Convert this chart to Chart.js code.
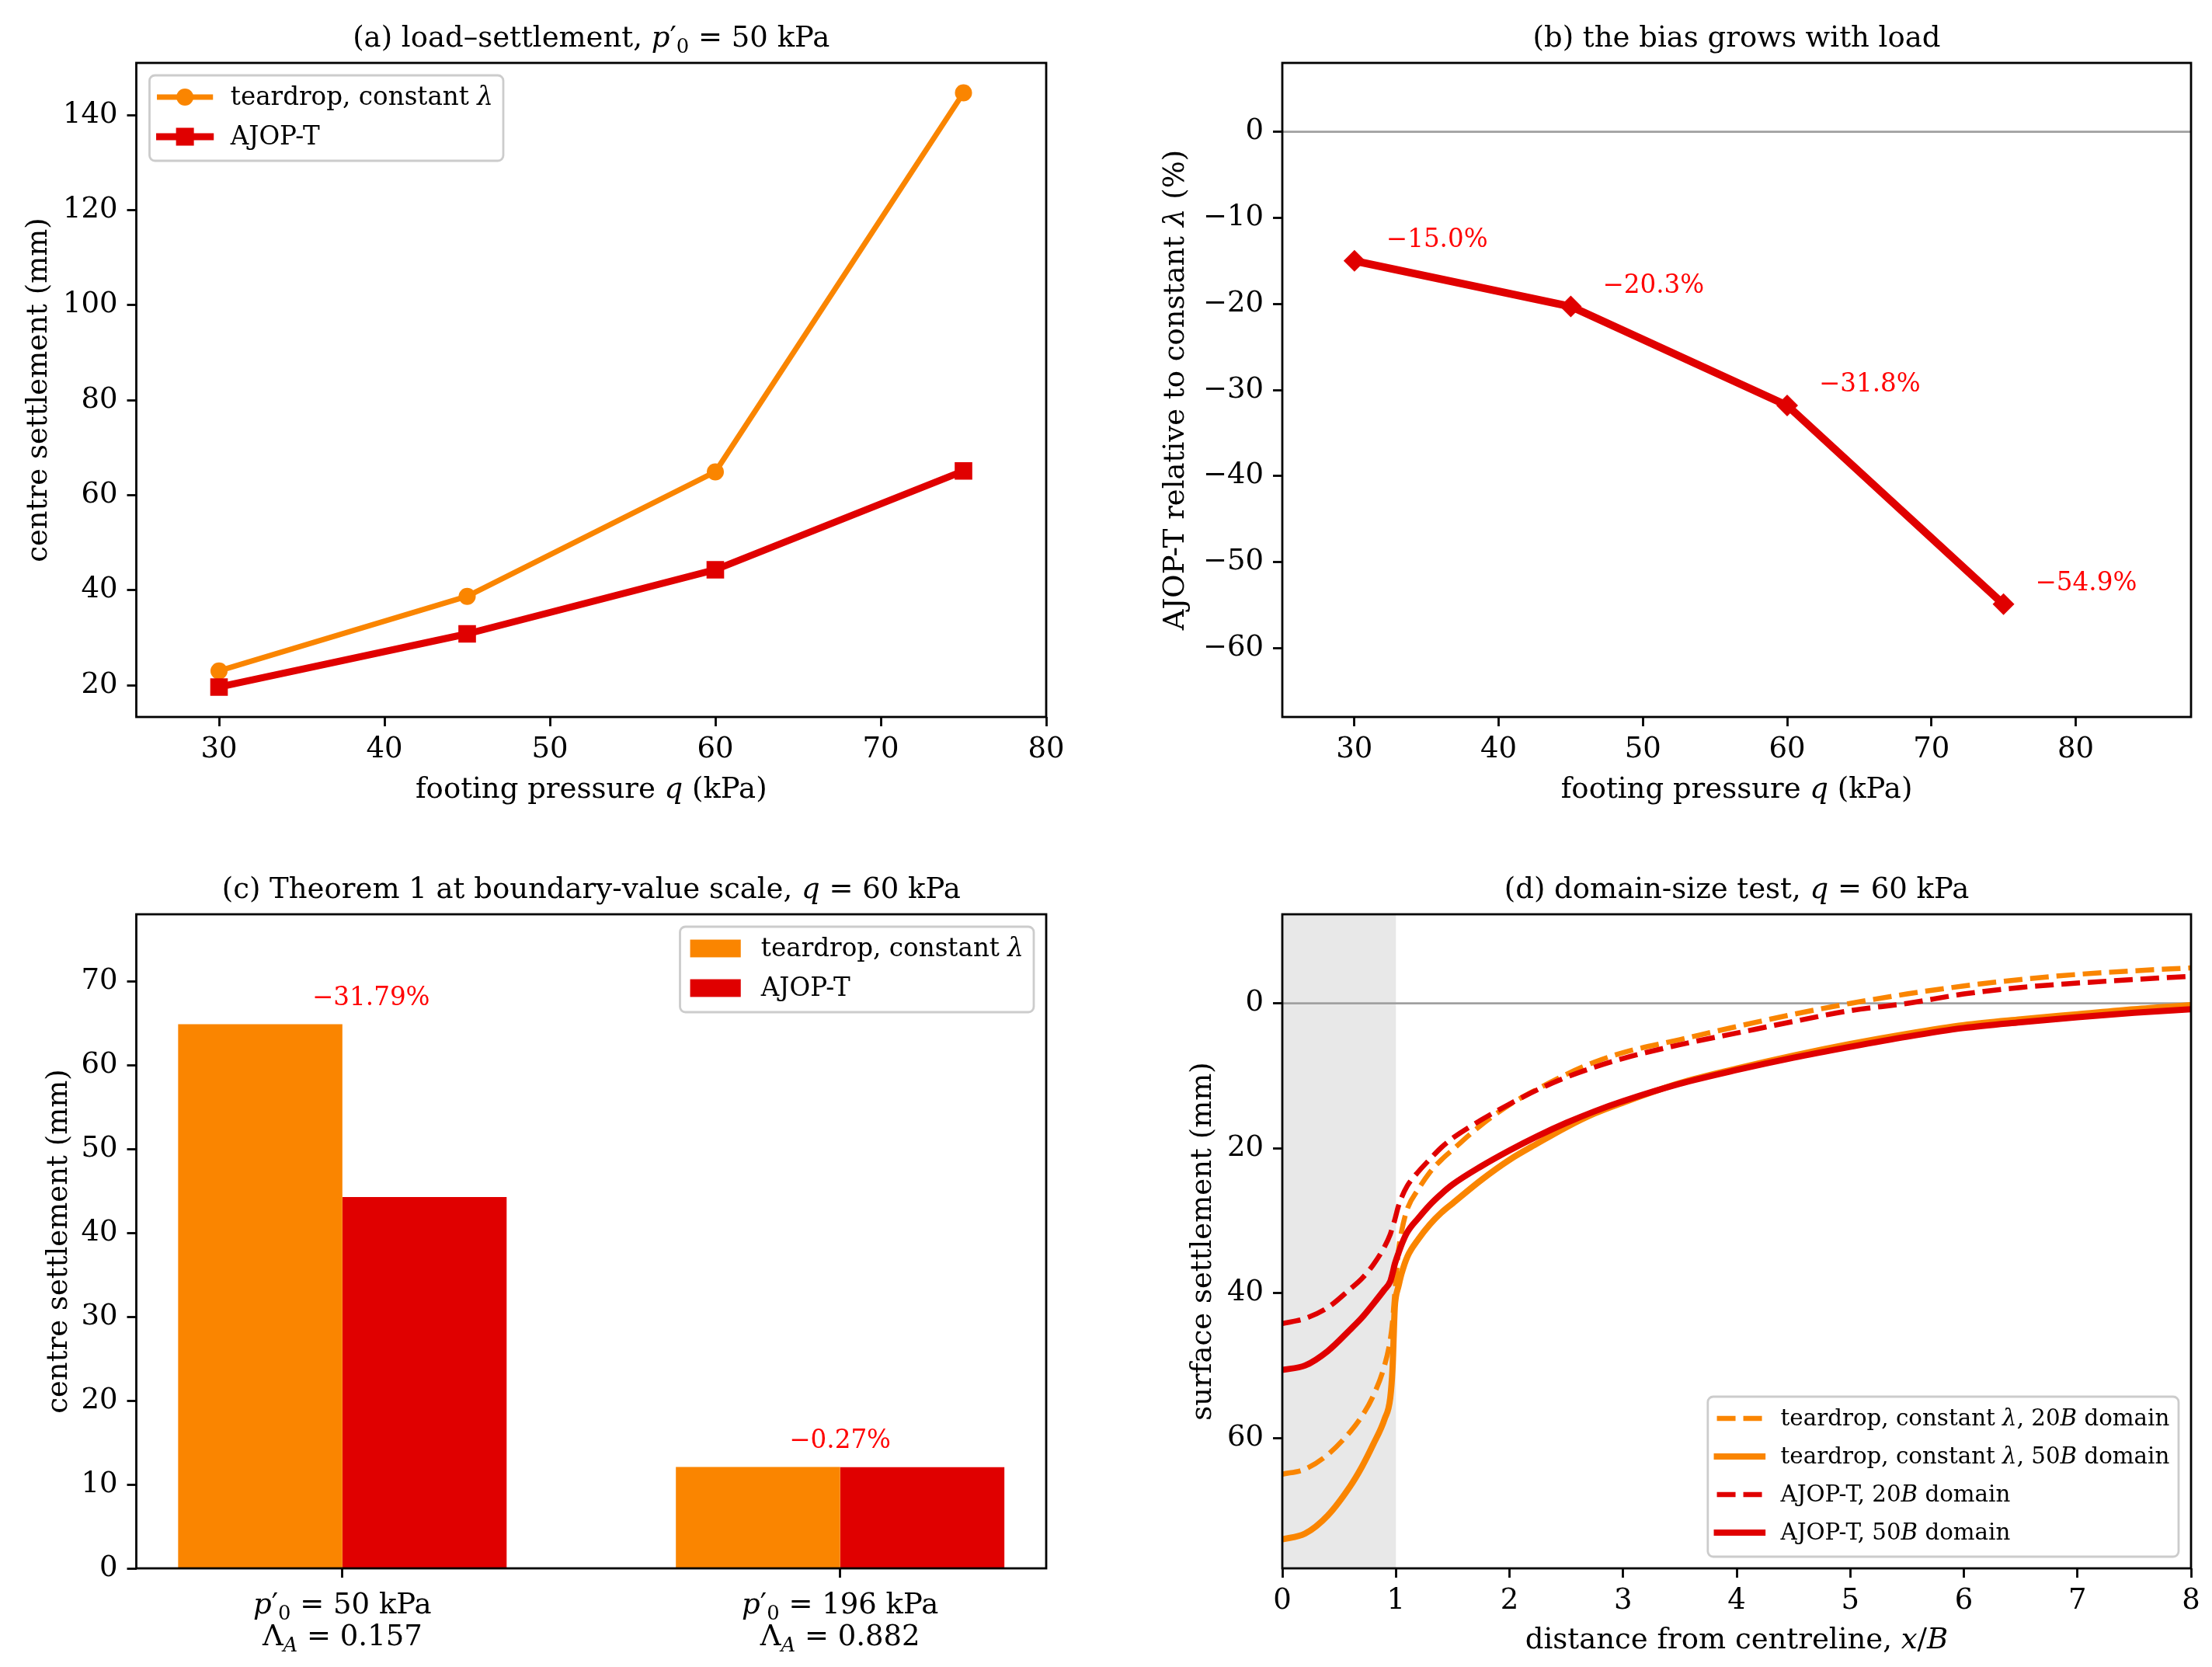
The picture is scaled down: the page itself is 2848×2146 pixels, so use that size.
<!DOCTYPE html>
<html>
<head>
<meta charset="utf-8">
<script src="https://cdn.jsdelivr.net/npm/chart.js@4.4.1/dist/chart.umd.min.js"></script>
<style>
  body { margin: 0; background: #fff; }
  #fig { position: relative; width: 2848px; height: 2146px; background: #fff; }
  canvas { position: absolute; }
</style>
</head>
<body>
<div id="fig">
  <canvas id="ca" width="1424" height="1073" style="left:0;top:0"></canvas>
  <canvas id="cb" width="1424" height="1073" style="left:1424px;top:0"></canvas>
  <canvas id="cc" width="1424" height="1073" style="left:0;top:1073px"></canvas>
  <canvas id="cd" width="1424" height="1073" style="left:1424px;top:1073px"></canvas>
</div>
<script>
// ---- data ----
var loadQ = [30, 45, 60, 75];
var aTeardrop = [23.0, 38.7, 64.9, 144.7];
var aAjop = [19.6, 30.8, 44.3, 65.1];
var bBias = [-15.0, -20.3, -31.8, -54.9];

var cPressure = [50, 196];
var cLambdaA = ['0.157', '0.882'];
var cTeardrop = [64.9, 12.1];
var cAjop = [44.27, 12.07];
var cBiasPct = [-31.79, -0.27];

var dX = [0, 0.2, 0.4, 0.6, 0.7, 0.8, 0.9, 0.95, 0.97, 0.99, 1.0, 1.02, 1.05, 1.1, 1.2, 1.3, 1.4, 1.5,
          1.75, 2.0, 2.25, 2.5, 2.75, 3.0, 3.5, 4.0, 4.5, 5.0, 5.5, 6.0, 6.5, 7.0, 7.5, 8.0];
var dTear20 = [65.0, 64.3, 62.3, 59.1, 57.0, 54.2, 50.0, 46.5, 44.0, 40.0, 38.2, 34.5, 31.5, 28.4, 25.6, 23.3, 21.6, 20.2,
               16.8, 14.0, 11.8, 9.8, 8.1, 6.8, 5.0, 3.2, 1.5, 0.0, -1.3, -2.4, -3.3, -4.0, -4.5, -4.9];
var dTear50 = [74.0, 73.2, 70.7, 66.6, 64.0, 60.9, 57.4, 54.5, 50.5, 42.0, 40.5, 39.2, 37.3, 35.0, 32.5, 30.5, 28.9, 27.6,
               24.4, 21.6, 19.3, 17.1, 15.2, 13.7, 11.0, 9.0, 7.2, 5.6, 4.2, 3.0, 2.2, 1.5, 0.8, 0.25];
var dAjop20 = [44.2, 43.5, 42.0, 39.4, 38.0, 36.1, 33.6, 31.9, 30.9, 29.9, 29.3, 28.1, 26.8, 25.2, 23.2, 21.5, 19.9, 18.6,
               16.1, 13.9, 11.9, 10.2, 8.8, 7.6, 5.7, 4.1, 2.5, 1.0, 0.0, -1.3, -2.2, -2.8, -3.3, -3.75];
var dAjop50 = [50.6, 50.0, 48.0, 45.0, 43.4, 41.5, 39.5, 38.4, 37.3, 36.0, 35.5, 34.6, 33.3, 31.6, 29.6, 27.8, 26.3, 25.0,
               22.5, 20.3, 18.3, 16.5, 14.9, 13.5, 11.1, 9.2, 7.5, 6.0, 4.6, 3.4, 2.6, 1.9, 1.3, 0.8];

var aXTicks = [30, 40, 50, 60, 70, 80];
var aYTicks = [20, 40, 60, 80, 100, 120, 140];
var bYTicks = [-60, -50, -40, -30, -20, -10, 0];
var cYTicks = [0, 10, 20, 30, 40, 50, 60, 70];
var dXTicks = [0, 1, 2, 3, 4, 5, 6, 7, 8];
var dYTicks = [0, 20, 40, 60];

// ---- styling ----
var SERIF = '"DejaVu Serif", "Liberation Serif", serif';
var ORANGE = '#fa8500';
var RED = '#e00000';
var FS = 37;
var FS_NOTE = 32.6;
var LW = 2.8;

Chart.defaults.font.family = SERIF;
Chart.defaults.font.size = FS;
Chart.defaults.color = '#000';

function fontStr(size, italic) {
  return (italic ? 'italic ' : '') + size + 'px ' + SERIF;
}
function richWidth(ctx, parts, size) {
  var w = 0;
  parts.forEach(function (p) {
    var f = p[1] || '';
    ctx.font = fontStr(f.indexOf('s') >= 0 ? size * 0.7 : size, f.indexOf('i') >= 0);
    w += ctx.measureText(p[0]).width;
  });
  return w;
}
function drawRich(ctx, parts, x, y, size, color, align) {
  var w = richWidth(ctx, parts, size);
  var cx = align === 'center' ? x - w / 2 : (align === 'right' ? x - w : x);
  ctx.fillStyle = color;
  ctx.textAlign = 'left';
  ctx.textBaseline = 'alphabetic';
  parts.forEach(function (p) {
    var f = p[1] || '';
    var sub = f.indexOf('s') >= 0;
    ctx.font = fontStr(sub ? size * 0.7 : size, f.indexOf('i') >= 0);
    ctx.fillText(p[0], cx, y + (sub ? size * 0.22 : 0));
    cx += ctx.measureText(p[0]).width;
  });
}
function fmt(v) {
  return v < 0 ? '\u2212' + Math.abs(v) : String(v);
}

function drawLegend(ctx, a, lg) {
  var fs = lg.fs, pad = 0.4 * fs, hl = 2 * fs, tp = 0.8 * fs;
  var tw = 0;
  lg.items.forEach(function (it) { tw = Math.max(tw, richWidth(ctx, it.parts, fs)); });
  var w = pad + hl + tp + tw + pad;
  var h = 28 + (lg.items.length - 1) * lg.rowH + 31;
  var x = lg.corner === 'ul' ? a.left + 17 : a.right - 16 - w;
  var y = lg.corner === 'lr' ? a.bottom - 15 - h : a.top + 16;
  ctx.save();
  ctx.beginPath();
  ctx.roundRect(x, y, w, h, 7);
  ctx.fillStyle = 'rgba(255,255,255,0.8)';
  ctx.fill();
  ctx.lineWidth = LW;
  ctx.strokeStyle = '#cccccc';
  ctx.stroke();
  lg.items.forEach(function (it, i) {
    var cy = y + 28 + i * lg.rowH;
    var hx = x + pad;
    if (it.kind === 'patch') {
      ctx.fillStyle = it.color;
      ctx.fillRect(hx, cy - 0.35 * fs, hl, 0.7 * fs);
    } else {
      ctx.beginPath();
      ctx.strokeStyle = it.color;
      ctx.lineWidth = it.width;
      ctx.setLineDash(it.dash || []);
      ctx.lineCap = it.dash ? 'butt' : 'square';
      ctx.moveTo(hx, cy);
      ctx.lineTo(hx + hl, cy);
      ctx.stroke();
      ctx.setLineDash([]);
      ctx.fillStyle = it.color;
      if (it.marker === 'circle') {
        ctx.beginPath();
        ctx.arc(hx + hl / 2, cy, 11, 0, Math.PI * 2);
        ctx.fill();
      } else if (it.marker === 'rect') {
        ctx.fillRect(hx + hl / 2 - 11.5, cy - 11.5, 23, 23);
      }
    }
    drawRich(ctx, it.parts, hx + hl + tp, cy + 0.3 * fs, fs, '#000', 'left');
  });
  ctx.restore();
}

// per-panel decorations: titles, axis titles, frame, legend, notes
function makeDecor(cfg) {
  return {
    id: 'decor',
    beforeDatasetsDraw: function (chart) {
      var ctx = chart.ctx, a = chart.chartArea, sx = chart.scales.x, sy = chart.scales.y;
      ctx.save();
      if (cfg.shade) {
        var x0 = sx.getPixelForValue(cfg.shade[0]), x1 = sx.getPixelForValue(cfg.shade[1]);
        ctx.fillStyle = '#e8e8e8';
        ctx.fillRect(x0, a.top, x1 - x0, a.bottom - a.top);
      }
      if (cfg.zeroLine) {
        var yz = sy.getPixelForValue(0);
        ctx.strokeStyle = '#a0a0a0';
        ctx.lineWidth = LW;
        ctx.beginPath();
        ctx.moveTo(a.left, yz);
        ctx.lineTo(a.right, yz);
        ctx.stroke();
      }
      ctx.restore();
    },
    afterDatasetsDraw: function (chart) {
      var ctx = chart.ctx, a = chart.chartArea;
      ctx.save();
      if (cfg.notes) cfg.notes(chart, ctx);
      ctx.strokeStyle = '#000';
      ctx.lineWidth = LW;
      ctx.strokeRect(a.left, a.top, a.right - a.left, a.bottom - a.top);
      if (cfg.legend) drawLegend(ctx, a, cfg.legend);
      ctx.restore();
    },
    afterDraw: function (chart) {
      var ctx = chart.ctx, a = chart.chartArea;
      var mx = (a.left + a.right) / 2, my = (a.top + a.bottom) / 2;
      ctx.save();
      drawRich(ctx, cfg.title, mx, a.top - 21, FS, '#000', 'center');
      if (cfg.xlabel) drawRich(ctx, cfg.xlabel, mx, a.bottom + cfg.xlabelDy, FS, '#000', 'center');
      ctx.save();
      ctx.translate(a.left - cfg.ylabelDx, my);
      ctx.rotate(-Math.PI / 2);
      drawRich(ctx, cfg.ylabel, 0, 0.3 * FS, FS, '#000', 'center');
      ctx.restore();
      if (cfg.afterTicks) cfg.afterTicks(chart, ctx);
      ctx.restore();
    }
  };
}

function axis(min, max, ticks, size, horizontal, extra) {
  return Object.assign({
    type: 'linear',
    min: min,
    max: max,
    grid: { display: true, offset: false, drawOnChartArea: false, drawTicks: true, tickLength: 12, tickWidth: LW, tickColor: '#000' },
    border: { display: false },
    ticks: { padding: horizontal ? 8 : 12, autoSkip: false, maxRotation: 0, callback: function (v) { return fmt(v); } },
    afterBuildTicks: function (s) { s.ticks = ticks.map(function (v) { return { value: v }; }); },
    afterFit: function (s) { if (horizontal) s.height = size; else s.width = size; }
  }, extra || {});
}

function pad(L, T, R, B) {
  return { left: L - 110, top: T, right: 1424 - R, bottom: 1073 - B - 70 };
}

function xy(xs, ys) {
  return ys.map(function (v, i) { return { x: xs[i], y: v }; });
}

var baseOpts = {
  responsive: false,
  animation: false,
  devicePixelRatio: 1,
  plugins: { legend: { display: false }, tooltip: { enabled: false } }
};
function opts(layoutPad, scales) {
  return Object.assign({}, baseOpts, { layout: { padding: layoutPad }, scales: scales });
}

var QLABEL = [['footing pressure '], ['q', 'i'], [' (kPa)']];
var TEAR = [['teardrop, constant '], ['\u03bb', 'i']];

// (a) load-settlement
new Chart(document.getElementById('ca'), {
  type: 'line',
  data: {
    datasets: [{
      data: xy(loadQ, aTeardrop), order: 1,
      borderColor: ORANGE, borderWidth: 7, borderCapStyle: 'square', borderJoinStyle: 'round',
      pointStyle: 'circle', pointRadius: 11, pointBackgroundColor: ORANGE, pointBorderWidth: 0
    }, {
      data: xy(loadQ, aAjop), order: 0,
      borderColor: RED, borderWidth: 9, borderCapStyle: 'square', borderJoinStyle: 'round',
      pointStyle: 'rect', pointRadius: 16, pointBackgroundColor: RED, pointBorderWidth: 0
    }]
  },
  options: opts(pad(175.5, 81, 1347, 923), {
    x: axis(25, 80, aXTicks, 70, true),
    y: axis(13.3, 151, aYTicks, 110, false)
  }),
  plugins: [makeDecor({
    title: [['(a) load\u2013settlement, '], ['p', 'i'], ['\u2032'], ['0', 's'], [' = 50 kPa']],
    xlabel: QLABEL, xlabelDy: 104,
    ylabel: [['centre settlement (mm)']], ylabelDx: 126.5,
    legend: {
      corner: 'ul', rowH: 51, fs: 32.6, items: [
        { parts: TEAR, color: ORANGE, width: 7, marker: 'circle' },
        { parts: [['AJOP-T']], color: RED, width: 9, marker: 'rect' }
      ]
    }
  })]
});

// (b) bias vs load
new Chart(document.getElementById('cb'), {
  type: 'line',
  data: {
    datasets: [{
      data: xy(loadQ, bBias),
      borderColor: RED, borderWidth: 10, borderCapStyle: 'square', borderJoinStyle: 'round',
      pointStyle: 'rectRot', pointRadius: 14, pointBackgroundColor: RED, pointBorderWidth: 0
    }]
  },
  options: opts(pad(227, 81, 1397, 923), {
    x: axis(25, 88, aXTicks, 70, true),
    y: axis(-68, 8, bYTicks, 110, false)
  }),
  plugins: [makeDecor({
    title: [['(b) the bias grows with load']],
    xlabel: QLABEL, xlabelDy: 104,
    ylabel: [['AJOP-T relative to constant '], ['\u03bb', 'i'], [' (%)']], ylabelDx: 138,
    zeroLine: true,
    notes: function (chart, ctx) {
      ctx.font = fontStr(FS_NOTE, false);
      ctx.fillStyle = '#ff0000';
      ctx.textAlign = 'left';
      ctx.textBaseline = 'alphabetic';
      bBias.forEach(function (v, i) {
        var px = chart.scales.x.getPixelForValue(loadQ[i]);
        var py = chart.scales.y.getPixelForValue(v);
        ctx.fillText('\u2212' + Math.abs(v).toFixed(1) + '%', px + 41, py - 18);
      });
    }
  })]
});

// (c) Theorem 1 bars
var cNoteShift = [37, 0];
new Chart(document.getElementById('cc'), {
  type: 'bar',
  data: {
    datasets: [{
      data: xy([0, 1], cTeardrop), backgroundColor: ORANGE, borderWidth: 0,
      categoryPercentage: 0.66, barPercentage: 1.0
    }, {
      data: xy([0, 1], cAjop), backgroundColor: RED, borderWidth: 0,
      categoryPercentage: 0.66, barPercentage: 1.0
    }]
  },
  options: opts(pad(175.5, 104, 1347, 946), {
    x: axis(-0.414, 1.414, [0, 1], 70, true, { offset: false, ticks: { display: false } }),
    y: axis(0, 78, cYTicks, 110, false)
  }),
  plugins: [makeDecor({
    title: [['(c) Theorem 1 at boundary-value scale, '], ['q', 'i'], [' = 60 kPa']],
    ylabel: [['centre settlement (mm)']], ylabelDx: 101,
    legend: {
      corner: 'ur', rowH: 51, fs: 32.6, items: [
        { parts: TEAR, color: ORANGE, kind: 'patch' },
        { parts: [['AJOP-T']], color: RED, kind: 'patch' }
      ]
    },
    notes: function (chart, ctx) {
      ctx.font = fontStr(FS_NOTE, false);
      ctx.fillStyle = '#ff0000';
      ctx.textAlign = 'center';
      ctx.textBaseline = 'alphabetic';
      cBiasPct.forEach(function (v, i) {
        var px = chart.scales.x.getPixelForValue(i) + cNoteShift[i];
        var py = chart.scales.y.getPixelForValue(Math.max(cTeardrop[i], cAjop[i]));
        ctx.fillText('\u2212' + Math.abs(v).toFixed(2) + '%', px, py - 24);
      });
    },
    afterTicks: function (chart, ctx) {
      var b = chart.chartArea.bottom;
      cPressure.forEach(function (p, i) {
        var px = chart.scales.x.getPixelForValue(i);
        drawRich(ctx, [['p', 'i'], ['\u2032'], ['0', 's'], [' = ' + p + ' kPa']], px, b + 58, FS, '#000', 'center');
        drawRich(ctx, [['\u039b'], ['A', 'is'], [' = ' + cLambdaA[i]]], px, b + 99, FS, '#000', 'center');
      });
    }
  })]
});

// (d) domain-size test
var DASH = [24, 10];
new Chart(document.getElementById('cd'), {
  type: 'line',
  data: {
    datasets: [{
      data: xy(dX, dTear20), order: 3, borderColor: ORANGE, borderWidth: 6.5, borderDash: DASH,
      pointRadius: 0, cubicInterpolationMode: 'monotone'
    }, {
      data: xy(dX, dTear50), order: 2, borderColor: ORANGE, borderWidth: 8, borderCapStyle: 'square',
      borderJoinStyle: 'round', pointRadius: 0, cubicInterpolationMode: 'monotone'
    }, {
      data: xy(dX, dAjop20), order: 1, borderColor: RED, borderWidth: 6.5, borderDash: DASH,
      pointRadius: 0, cubicInterpolationMode: 'monotone'
    }, {
      data: xy(dX, dAjop50), order: 0, borderColor: RED, borderWidth: 8, borderCapStyle: 'square',
      borderJoinStyle: 'round', pointRadius: 0, cubicInterpolationMode: 'monotone'
    }]
  },
  options: opts(pad(227, 104, 1397, 946), {
    x: axis(0, 8, dXTicks, 70, true),
    y: axis(-12.3, 78, dYTicks, 110, false, { reverse: true })
  }),
  plugins: [makeDecor({
    title: [['(d) domain-size test, '], ['q', 'i'], [' = 60 kPa']],
    xlabel: [['distance from centreline, '], ['x', 'i'], ['/'], ['B', 'i']], xlabelDy: 103,
    ylabel: [['surface settlement (mm)']], ylabelDx: 103.5,
    shade: [0, 1],
    zeroLine: true,
    legend: {
      corner: 'lr', rowH: 49, fs: 29.3, items: [
        { parts: TEAR.concat([[', 20'], ['B', 'i'], [' domain']]), color: ORANGE, width: 6.5, dash: DASH },
        { parts: TEAR.concat([[', 50'], ['B', 'i'], [' domain']]), color: ORANGE, width: 8 },
        { parts: [['AJOP-T, 20'], ['B', 'i'], [' domain']], color: RED, width: 6.5, dash: DASH },
        { parts: [['AJOP-T, 50'], ['B', 'i'], [' domain']], color: RED, width: 8 }
      ]
    }
  })]
});
</script>
</body>
</html>
